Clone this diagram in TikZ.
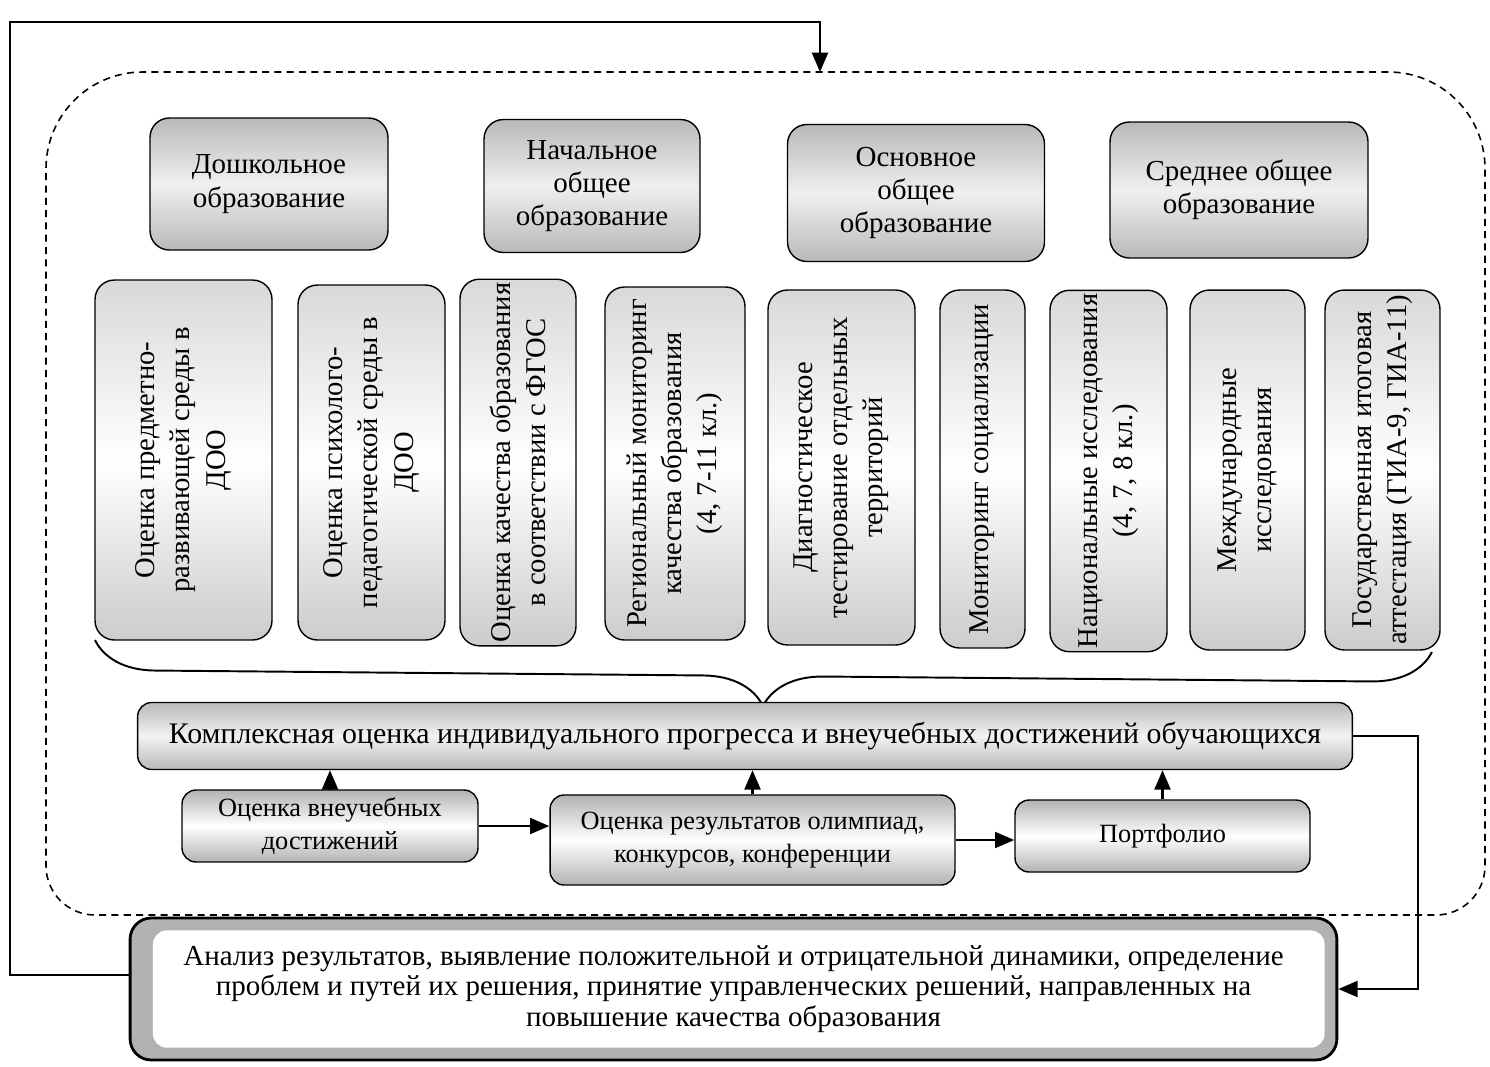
\documentclass[tikz,border=0pt]{standalone}
\usepackage{fontspec}
\setmainfont{Liberation Serif}
\usetikzlibrary{arrows.meta,positioning,shapes,calc,decorations.pathreplacing}

\tikzset{
  levelbox/.style={draw=black, thick, rounded corners=11pt, top color=gray!55, bottom color=gray!55,
    middle color=gray!12, align=center, inner sep=2pt, font=\fontsize{16.5}{19}\selectfont},
  methodbox/.style={draw=black, thick, rounded corners=11pt, rotate=90, top color=gray!30,
    bottom color=gray!40, middle color=white, align=center, inner sep=2pt,
    font=\fontsize{16.3}{20}\selectfont},
  resbox/.style={draw=black, thick, rounded corners=8pt, top color=gray!60, bottom color=gray!60,
    middle color=white, align=center, inner sep=2pt, font=\fontsize{15}{19}\selectfont},
  arrow/.style={-{Triangle[length=11pt,width=9pt]}, line width=1.5pt},
  regionline/.style={dashed, line width=0.9pt, dash pattern=on 4pt off 3pt},
}

\begin{document}
\begin{tikzpicture}[x=0.02cm, y=-0.02cm]
  \useasboundingbox (0,0) rectangle (1490,1066);

  % dashed region
  \draw[regionline] (46,500) [rounded corners=55pt] -- (46,72) -- (1485,72)
    [rounded corners=28pt] -- (1485,915) -- (46,915) -- cycle;
  \coordinate (rtop) at (820,72);
  \coordinate (fbcorner) at (10,22);

  % levels of education
  \node[levelbox, minimum width=4.76cm, minimum height=2.64cm] (doshk) at (269,184)
    {Дошкольное\\образование};
  \node[levelbox, minimum width=4.32cm, minimum height=2.66cm] (nach) at (592,186)
    {Начальное\\общее\\образование};
  \node[levelbox, minimum width=5.14cm, minimum height=2.74cm] (osn) at (916,193)
    {Основное\\общее\\образование};
  \node[levelbox, minimum width=5.16cm, minimum height=2.72cm] (sred) at (1239,190)
    {Среднее общее\\образование};

  % assessment procedures
  \node[methodbox, minimum width=7.2cm, minimum height=3.54cm] (m1) at (183.5,460)
    {Оценка предметно-\\развивающей среды в\\ДОО};
  \node[methodbox, minimum width=7.1cm, minimum height=2.94cm] (m2) at (371.5,462.5)
    {Оценка психолого-\\педагогической среды в\\ДОО};
  \node[methodbox, minimum width=7.1cm, minimum height=2.32cm] (m3) at (518,462.5)
    {Оценка качества образования\\в соответствии с ФГОС};
  \node[methodbox, minimum width=7.06cm, minimum height=2.8cm] (m4) at (675,463.5)
    {Региональный мониторинг\\качества образования\\(4, 7-11 кл.)};
  \node[methodbox, minimum width=7.1cm, minimum height=2.94cm] (m5) at (841.5,467.5)
    {Диагностическое\\тестирование отдельных\\территорий};
  \node[methodbox, minimum width=7.16cm, minimum height=1.7cm] (m6) at (982.5,469)
    {Мониторинг социализации};
  \node[methodbox, minimum width=7.16cm, minimum height=2.34cm] (m7) at (1108.5,471)
    {Национальные исследования\\(4, 7, 8 кл.)};
  \node[methodbox, minimum width=7.2cm, minimum height=2.3cm] (m8) at (1247.5,470)
    {Международные\\исследования};
  \node[methodbox, minimum width=7.2cm, minimum height=2.3cm] (m9) at (1382.5,470)
    {Государственная итоговая\\аттестация (ГИА-9, ГИА-11)};

  \draw[line width=1.1pt, decorate, decoration={brace, mirror, amplitude=1.2cm}]
    (95,640) -- (1432,652);

  % complex assessment
  \node[draw=black, thick, rounded corners=8pt, top color=gray!55, bottom color=gray!55,
    middle color=gray!10, minimum width=24.3cm, minimum height=1.34cm,
    font=\fontsize{17}{20}\selectfont] (kompl) at (745,736)
    {Комплексная оценка индивидуального прогресса и внеучебных достижений обучающихся};

  \node[resbox, minimum width=5.92cm, minimum height=1.44cm] (vneuch) at (330,826)
    {Оценка внеучебных\\достижений};
  \node[resbox, minimum width=8.1cm, minimum height=1.8cm] (olymp) at (752.5,840)
    {Оценка результатов олимпиад,\\конкурсов, конференции};
  \node[resbox, minimum width=5.9cm, minimum height=1.44cm] (portf) at (1162.5,836)
    {Портфолио};

  \draw[arrow] (vneuch.north) -- (vneuch.north |- kompl.south);
  \draw[arrow] (olymp.north) -- (olymp.north |- kompl.south);
  \draw[arrow] (portf.north) -- (portf.north |- kompl.south);
  \draw[arrow] (vneuch.east) -- (vneuch.east -| olymp.west);
  \draw[arrow] (olymp.east) -- (olymp.east -| portf.west);

  % analysis
  \node[draw=black, line width=1.6pt, rounded corners=12pt, fill=gray!60,
    minimum width=24.14cm, minimum height=2.84cm, align=center,
    font=\fontsize{16.5}{17.5}\selectfont,
    path picture={\fill[white, rounded corners=8pt]
      ([shift={(13pt,-7pt)}]path picture bounding box.north west) rectangle
      ([shift={(-7pt,7pt)}]path picture bounding box.south east);}] (analysis) at (733.5,989)
    {Анализ результатов, выявление положительной и отрицательной динамики, определение\\
     проблем и путей их решения, принятие управленческих решений, направленных на\\
     повышение качества образования};

  % feedback
  \draw[arrow] (kompl.east) -- ++(65,0) |- (analysis.east);
  \draw[arrow] ([yshift=0.28cm]analysis.west) -| (fbcorner) -| (rtop);
\end{tikzpicture}
\end{document}
